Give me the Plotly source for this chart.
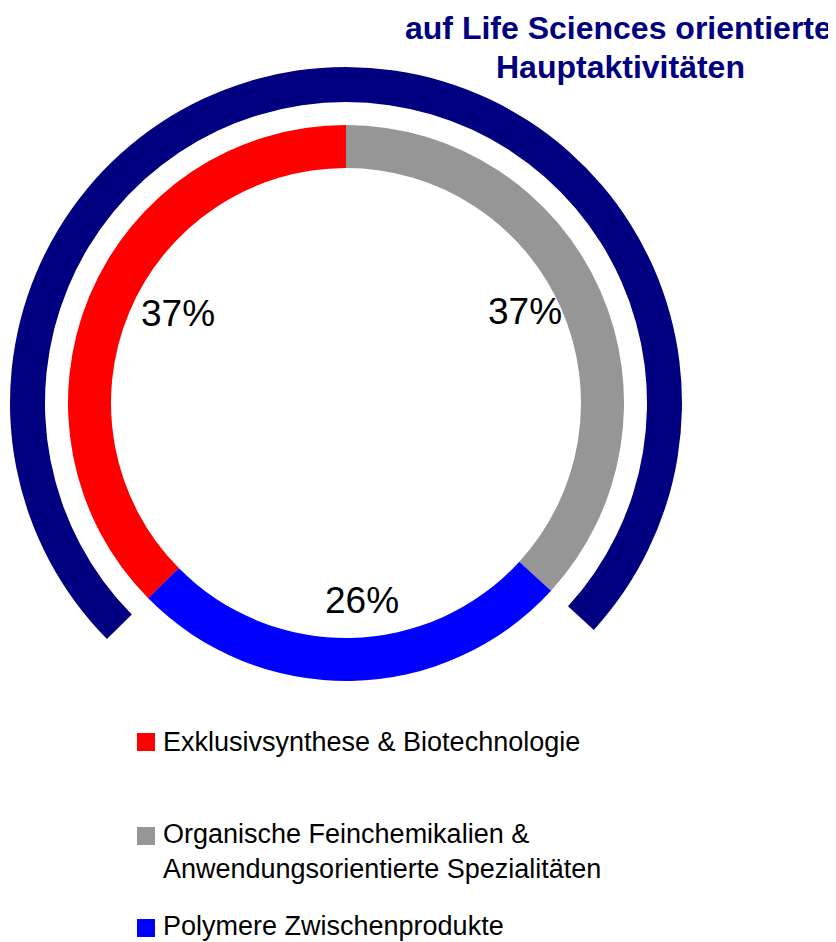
import plotly.graph_objects as go

# inner ring: business areas (shares in %)
labels = ["Exklusivsynthese & Biotechnologie",
          "Organische Feinchemikalien &<br>Anwendungsorientierte Spezialitäten",
          "Polymere Zwischenprodukte"]
shares = [37.4, 36.8, 25.8]
colors = ["#FF0000", "#969696", "#0000FF"]

# outer ring: life-science oriented part (red + grey), rest left open
outer_labels = ["Life Sciences A", "Life Sciences B", "Rest"]
outer_shares = [37.4, 36.8, 25.8]
outer_colors = ["#000080", "#000080", "rgba(0,0,0,0)"]

title_lines = ["auf Life Sciences orientierte", "Hauptaktivitäten"]

W, H = 836, 942
OFF = 8  # page body margin of the html output
cx, cy = 346 - OFF, 403 - OFF  # ring centre in px from top-left


def px(x):
    return (x - OFF) / W


def py(y):
    return 1 - (y - OFF) / H


def dom(r):
    return dict(x=[(cx - r) / W, (cx + r) / W],
                y=[(H - cy - r) / H, (H - cy + r) / H])


# start the first slice so that grey begins at 12 o'clock
rot = -(shares[0] / 100 * 360)

fig = go.Figure()
fig.add_trace(go.Pie(
    labels=outer_labels, values=outer_shares, sort=False, direction="clockwise",
    rotation=rot, hole=301 / 336, domain=dom(336), textinfo="none",
    marker=dict(colors=outer_colors, line=dict(width=0)),
    showlegend=False, hoverinfo="skip"))
fig.add_trace(go.Pie(
    labels=labels, values=shares, sort=False, direction="clockwise",
    rotation=rot, hole=235 / 278, domain=dom(278), textinfo="none",
    marker=dict(colors=colors, line=dict(width=0)),
    showlegend=False))

# percentage labels inside the hole
label_pos = [(178, 314), (525, 312), (362, 600)]
for v, (x, y) in zip(shares, label_pos):
    fig.add_annotation(x=px(x), y=py(y), xref="paper", yref="paper",
                       xanchor="center", yanchor="middle",
                       text=f"{v:.0f}%", showarrow=False,
                       font=dict(size=37, color="black"))

# title, top right (two lines kept as separate texts)
for line, (x, y) in zip(title_lines, [(618, 28), (620, 67)]):
    fig.add_annotation(x=px(x), y=py(y), xref="paper", yref="paper",
                       xanchor="center", yanchor="middle",
                       text=f"<b>{line}</b>", showarrow=False,
                       font=dict(size=32, color="#000080"))

# legend drawn by hand (square + text)
legend_rows = [742, 851.5, 926]
square_rows = [742, 836, 928]
for lab, col, ty, sy in zip(labels, colors, legend_rows, square_rows):
    fig.add_shape(type="rect", xref="paper", yref="paper",
                  x0=px(137), x1=px(155), y0=py(sy - 9), y1=py(sy + 9),
                  fillcolor=col, line=dict(width=0))
    fig.add_annotation(x=px(161), y=py(ty), xref="paper", yref="paper",
                       xanchor="left", yanchor="middle", align="left",
                       text=lab, showarrow=False,
                       font=dict(size=27, color="black"))

fig.update_layout(
    width=W, height=H,
    margin=dict(l=0, r=0, t=0, b=0),
    paper_bgcolor="white", plot_bgcolor="white",
    font=dict(family="Liberation Sans", color="black"),
    showlegend=False,
)

fig.write_html("out.html")
